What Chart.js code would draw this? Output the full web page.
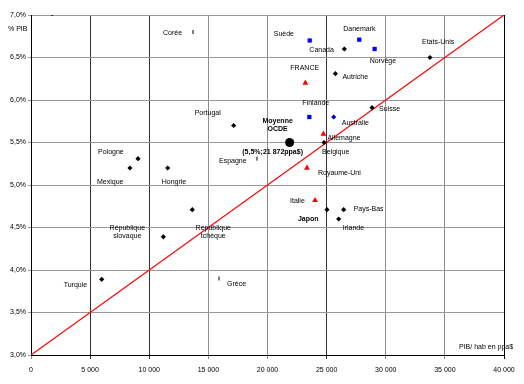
<!DOCTYPE html>
<html>
<head>
<meta charset="utf-8">
<script src="https://cdn.jsdelivr.net/npm/chart.js@4/dist/chart.umd.min.js"></script>
<style>html,body{margin:0;padding:0;background:#fff}</style>
</head>
<body>
<canvas id="myChart" width="524" height="384"></canvas>
<script>
// PIB par habitant (ppa$) et part du PIB (%)
const blackNames = ['Canada', 'Etats-Unis', 'Autriche', 'Suisse', 'Portugal', 'Belgique', 'Pologne', 'Mexique',
    'Hongrie', 'Japon', 'Pays-Bas', 'Irlande', 'République\nslovaque', 'République\ntchèque', 'Turquie'];
const blackGdp = [26500, 33740, 25740, 28840, 17140, 24780, 9050, 8370, 11560, 25030, 26440, 26020, 11190, 13640, 5980];
const blackPct = [6.60, 6.50, 6.31, 5.91, 5.70, 5.50, 5.31, 5.20, 5.20, 4.71, 4.71, 4.60, 4.39, 4.71, 3.89];

const nordicNames = ['Suède', 'Danemark', 'Norvège', 'Finlande'];
const nordicGdp = [23570, 27760, 29060, 23540];
const nordicPct = [6.70, 6.71, 6.60, 5.80];

const ausNames = ['Australie'];
const ausGdp = [25600];
const ausPct = [5.80];

const redNames = ['FRANCE', 'Allemagne', 'Royaume-Uni', 'Italie'];
const redGdp = [23200, 24730, 23340, 24020];
const redPct = [6.20, 5.60, 5.20, 4.82];

const tickNames = ['Corée', 'Espagne', 'Grèce'];
const tickGdp = [13700, 19110, 15900];
const tickPct = [6.80, 5.31, 3.90];

const oecdNames = ['Moyenne\nOCDE'];
const oecdGdp = [21872];
const oecdPct = [5.5];

const strayGdp = [1800];
const strayPct = [7.0];

// droite de référence
const lineGdp = [0, 40000];
const linePct = [3.0, 7.0];

const xTicks = [0, 5000, 10000, 15000, 20000, 25000, 30000, 35000, 40000];
const yTicks = [3.0, 3.5, 4.0, 4.5, 5.0, 5.5, 6.0, 6.5, 7.0];

// position des étiquettes : [dx, dy, alignement, gras]
const labelPos = {
    'Canada': [-35, 1, 'left'], 'Etats-Unis': [-8, -15, 'left'], 'Autriche': [7, 3, 'left'],
    'Suisse': [7, 1, 'left'], 'Portugal': [-39, -12, 'left'], 'Belgique': [-2, 10, 'left'],
    'Pologne': [-40, -7, 'left'], 'Mexique': [-33, 14, 'left'], 'Hongrie': [-6, 14, 'left'],
    'Japon': [-29, 9, 'left', true], 'Pays-Bas': [10, -1, 'left'], 'Irlande': [4, 9, 'left'],
    'République\nslovaque': [-36, -9, 'center'], 'République\ntchèque': [21, 18, 'center'],
    'Turquie': [-38, 6, 'left'], 'Suède': [-36, -6, 'left'], 'Danemark': [-16, -11, 'left'],
    'Norvège': [-5, 12, 'left'], 'Finlande': [-7, -14, 'left'], 'Australie': [8, 6, 'left'],
    'FRANCE': [-15, -15, 'left'], 'Allemagne': [4, 4, 'left'], 'Royaume-Uni': [11, 5, 'left'],
    'Italie': [-25, 1, 'left'], 'Corée': [-30, 1, 'left'], 'Espagne': [-38, 2, 'left'],
    'Grèce': [8, 6, 'left'], 'Moyenne\nOCDE': [-12, -21, 'center', true]
};

const toPts = (xs, ys) => xs.map((x, i) => ({ x: x, y: ys[i] }));
const fmtThousands = (v) => String(v).replace(/\B(?=(\d{3})+(?!\d))/g, ' ');

const labelPlugin = {
    id: 'pointLabels',
    afterDatasetsDraw(chart) {
        const ctx = chart.ctx;
        ctx.save();
        ctx.fillStyle = '#000';
        ctx.textBaseline = 'middle';
        chart.data.datasets.forEach((ds, i) => {
            if (!ds.names) return;
            const meta = chart.getDatasetMeta(i);
            meta.data.forEach((el, j) => {
                const name = ds.names[j];
                const pos = labelPos[name] || [5, 0, 'left'];
                ctx.font = (pos[3] ? 'bold ' : '') + '7px "Liberation Sans", Arial, sans-serif';
                ctx.textAlign = pos[2];
                name.split('\n').forEach((line, k) => {
                    ctx.fillText(line, el.x + pos[0], el.y + pos[1] + k * 8);
                });
            });
        });
        // coordonnées de la moyenne OCDE
        const oecd = chart.getDatasetMeta(5).data[0];
        ctx.font = 'bold 7px "Liberation Sans", Arial, sans-serif';
        ctx.textAlign = 'center';
        ctx.fillText('(5,5%;21 872ppa$)', oecd.x - 17, oecd.y + 10);
        // titres des axes
        const area = chart.chartArea;
        ctx.font = '7px "Liberation Sans", Arial, sans-serif';
        ctx.textAlign = 'left';
        ctx.fillText('% PIB', 8, area.top + 14);
        ctx.fillText('PIB/ hab en ppa$', area.right - 45, area.bottom - 8);
        ctx.restore();
    }
};

const ctx = document.getElementById('myChart').getContext('2d');
const myChart = new Chart(ctx, {
    type: 'scatter',
    data: {
        datasets: [
            {
                type: 'line', data: toPts(lineGdp, linePct), borderColor: '#ff0000', borderWidth: 1.2,
                pointRadius: 0, fill: false, order: 10
            },
            {
                names: blackNames, data: toPts(blackGdp, blackPct), pointStyle: 'rectRot', pointRadius: 2.6,
                backgroundColor: '#000', borderColor: '#000', borderWidth: 0
            },
            {
                names: nordicNames, data: toPts(nordicGdp, nordicPct), pointStyle: 'rect', pointRadius: 3,
                backgroundColor: '#0000ff', borderColor: '#0000ff', borderWidth: 0
            },
            {
                names: ausNames, data: toPts(ausGdp, ausPct), pointStyle: 'rectRot', pointRadius: 2.6,
                backgroundColor: '#0000cc', borderColor: '#0000cc', borderWidth: 0
            },
            {
                names: redNames, data: toPts(redGdp, redPct), pointStyle: 'triangle', pointRadius: 3.4,
                backgroundColor: '#ff0000', borderColor: '#ff0000', borderWidth: 0
            },
            {
                names: oecdNames, data: toPts(oecdGdp, oecdPct), pointStyle: 'circle', pointRadius: 4.5,
                backgroundColor: '#000', borderColor: '#000', borderWidth: 0
            },
            {
                names: tickNames, data: toPts(tickGdp, tickPct), pointStyle: 'line', rotation: 90, pointRadius: 2,
                borderColor: '#000', borderWidth: 1
            },
            {
                data: toPts(strayGdp, strayPct), pointStyle: 'rect', pointRadius: 1.2,
                backgroundColor: '#000', borderColor: '#000', borderWidth: 0
            }
        ]
    },
    options: {
        responsive: false,
        animation: false,
        layout: { padding: { top: 15, right: 20, left: 0, bottom: 0 } },
        plugins: { legend: { display: false }, tooltip: { enabled: false } },
        scales: {
            x: {
                type: 'linear', min: 0, max: 40000,
                afterBuildTicks: (axis) => { axis.ticks = xTicks.map((v) => ({ value: v })); },
                afterFit: (axis) => { axis.height = 29; },
                ticks: {
                    color: '#000', padding: 7, maxRotation: 0,
                    font: { size: 7, family: '"Liberation Sans", Arial, sans-serif' },
                    callback: (v) => fmtThousands(v)
                },
                grid: {
                    tickLength: 4,
                    color: (c) => {
                        const v = c.tick ? c.tick.value : null;
                        if (v === 40000) return '#000';
                        if (v === 5000 || v === 10000 || v === 25000) return '#333';
                        return '#8c8c8c';
                    }
                },
                border: { color: '#000', width: 1 }
            },
            y: {
                type: 'linear', min: 3.0, max: 7.0,
                afterBuildTicks: (axis) => { axis.ticks = yTicks.map((v) => ({ value: v })); },
                afterFit: (axis) => { axis.width = 31; },
                ticks: {
                    color: '#000', padding: 2,
                    font: { size: 7, family: '"Liberation Sans", Arial, sans-serif' },
                    callback: (v) => v.toFixed(1).replace('.', ',') + '%'
                },
                grid: { tickLength: 3, color: '#999' },
                border: { color: '#000', width: 1 }
            }
        }
    },
    plugins: [labelPlugin]
});
</script>
</body>
</html>
